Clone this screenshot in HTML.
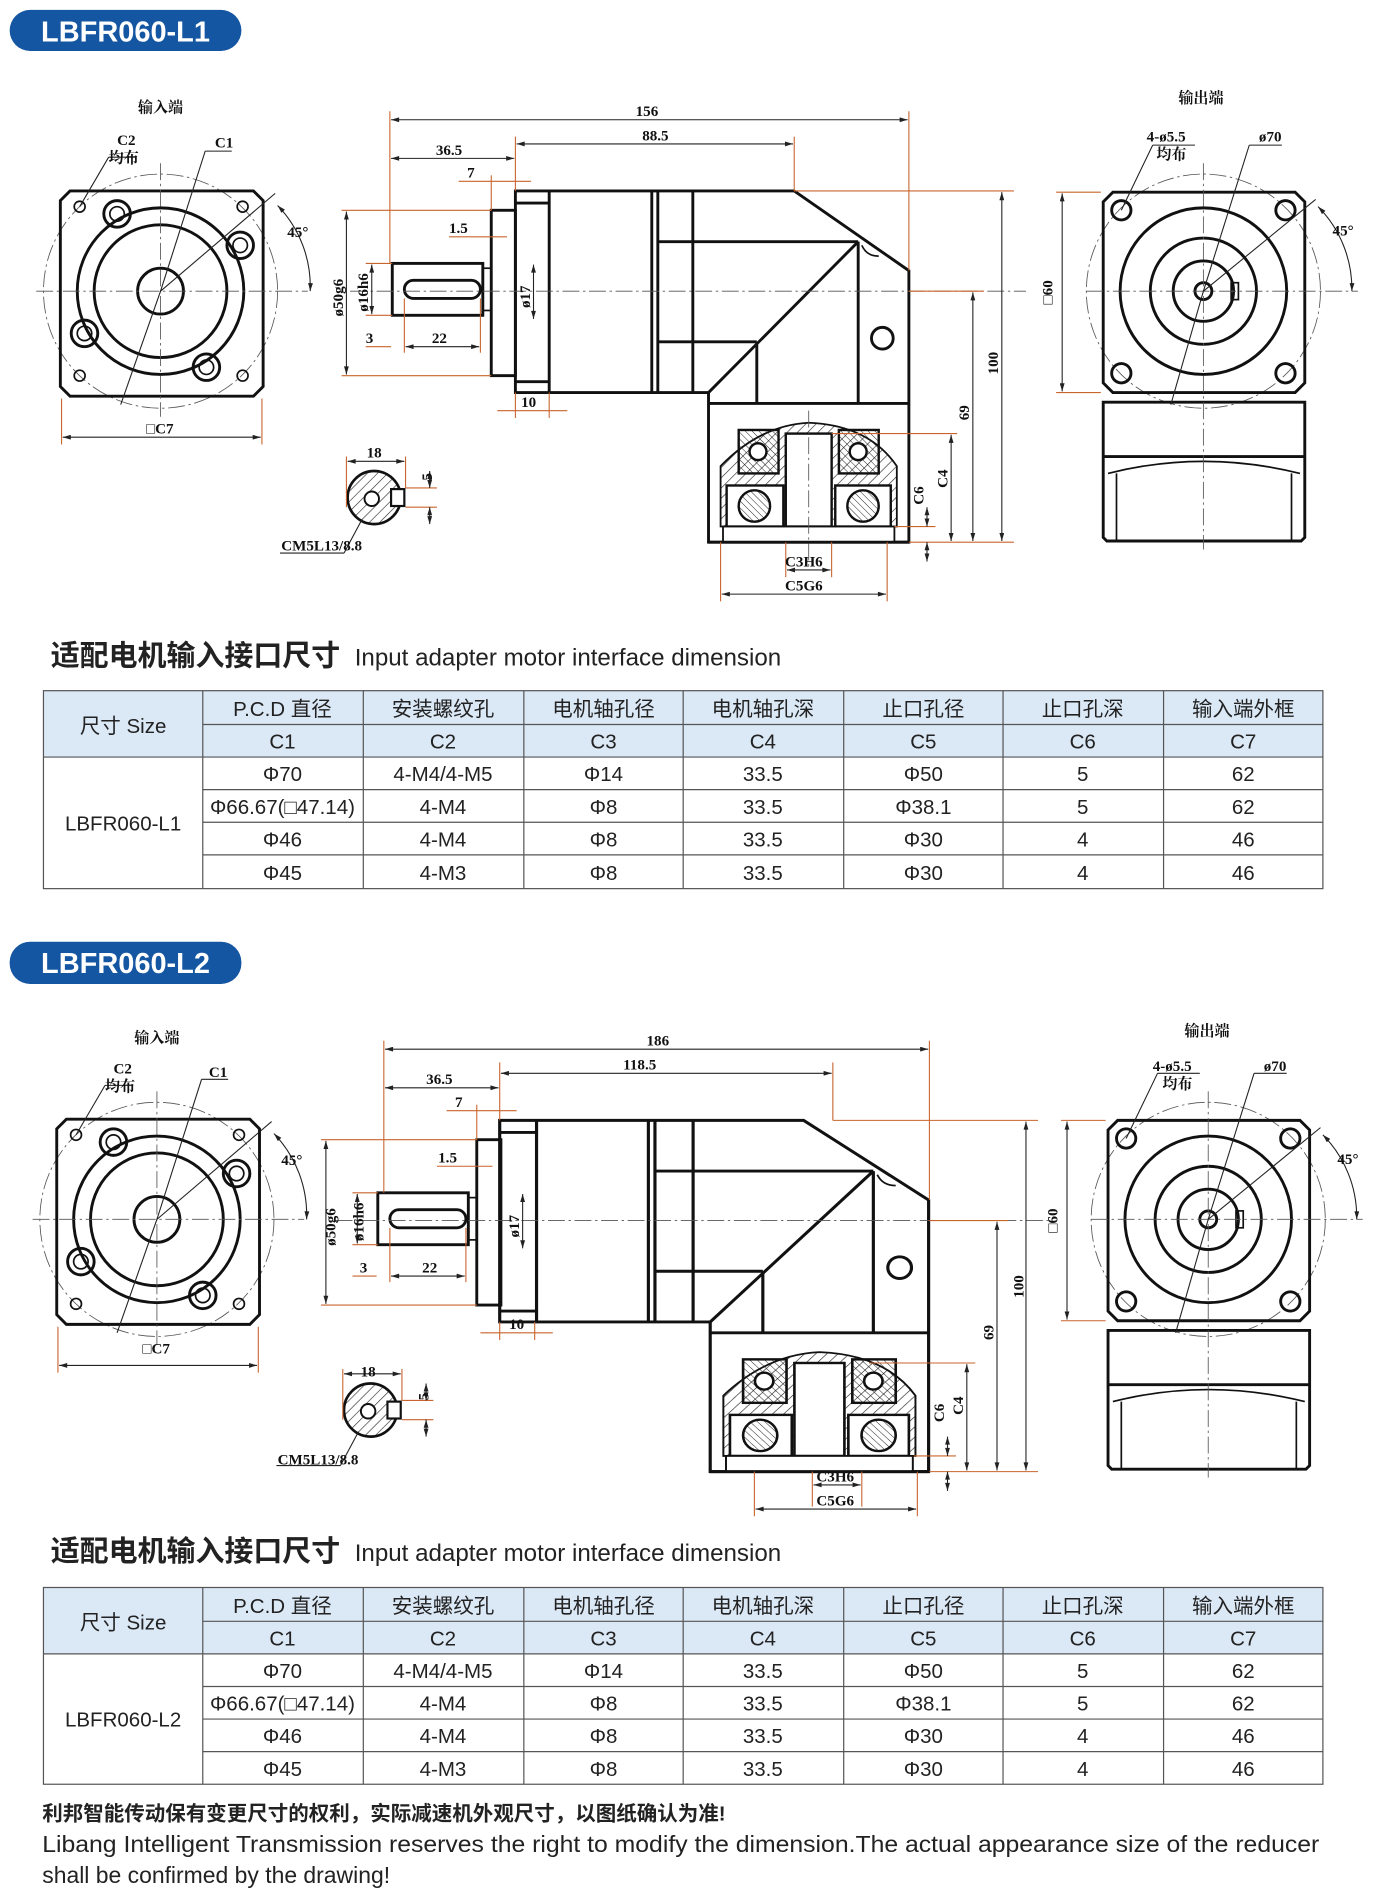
<!DOCTYPE html>
<html><head><meta charset="utf-8"><style>
html,body{margin:0;padding:0;background:#fff;}
svg{display:block;}
.t{font-family:"Liberation Sans","Noto Sans CJK SC",sans-serif;}
.d{font-family:"Liberation Sans Narrow","Liberation Serif","Noto Serif CJK SC",serif;font-size:12.5px;font-weight:bold;fill:#111;}
.k{fill:none;stroke:#111;stroke-width:2.4;}
.k1{fill:none;stroke:#111;stroke-width:1.4;}
.o{fill:none;stroke:#c8642c;stroke-width:0.9;}
.dm{fill:none;stroke:#222;stroke-width:0.9;marker-start:url(#ar);marker-end:url(#ar);}
.c{fill:none;stroke:#555;stroke-width:0.7;stroke-dasharray:14 3 2 3;}
.th{font-size:17px;fill:#222;text-anchor:middle;}
</style></head><body>
<svg width="1376" height="1904" viewBox="0 0 1140 1577" xmlns="http://www.w3.org/2000/svg">
<defs>
<marker id="ar" viewBox="0 0 10 6" refX="10" refY="3" markerWidth="8" markerHeight="4" orient="auto-start-reverse" markerUnits="userSpaceOnUse"><path d="M0,0L10,3L0,6z" fill="#222"/></marker>
<pattern id="h" width="6" height="6" patternUnits="userSpaceOnUse" patternTransform="rotate(45)"><line x1="0" y1="0" x2="0" y2="6" stroke="#222" stroke-width="1"/></pattern>
<pattern id="h2" width="4" height="4" patternUnits="userSpaceOnUse" patternTransform="rotate(-45)"><line x1="0" y1="0" x2="0" y2="4" stroke="#222" stroke-width="0.8"/></pattern>

<g id="inView">
<circle cx="133" cy="241" r="97" class="c"/>
<path class="k" d="M58,158H210L218,166V320L210,328H58L50,320V166Z"/>
<circle cx="133" cy="241" r="69" class="k"/>
<circle cx="133" cy="241" r="55" class="k"/>
<circle cx="133" cy="241" r="19" class="k"/>
<g class="k"><circle cx="97" cy="177" r="11"/><circle cx="199" cy="203" r="11"/><circle cx="70" cy="276" r="11"/><circle cx="171" cy="304" r="11"/></g>
<g class="k1"><circle cx="97" cy="177" r="6"/><circle cx="199" cy="203" r="6"/><circle cx="70" cy="276" r="6"/><circle cx="171" cy="304" r="6"/>
<circle cx="66" cy="171" r="4.5"/><circle cx="201" cy="171" r="4.5"/><circle cx="66" cy="311" r="4.5"/><circle cx="201" cy="311" r="4.5"/></g>
<line x1="30" y1="241" x2="255" y2="241" class="c"/><line x1="133" y1="135" x2="133" y2="345" class="c"/>
<line x1="133" y1="241" x2="100" y2="335" stroke="#222" stroke-width="0.9"/>
<line x1="133" y1="241" x2="170" y2="125" stroke="#222" stroke-width="0.9"/><line x1="170" y1="125" x2="192" y2="125" stroke="#222" stroke-width="0.9"/>
<line x1="133" y1="241" x2="228" y2="160" stroke="#222" stroke-width="0.9"/>
<line x1="66" y1="171" x2="90" y2="130" stroke="#222" stroke-width="0.9"/><line x1="90" y1="130" x2="112" y2="130" stroke="#222" stroke-width="0.9"/>
<path d="M230,170 A97,97 0 0 1 257,241" fill="none" stroke="#222" stroke-width="0.9" marker-start="url(#ar)" marker-end="url(#ar)"/>
<line x1="51" y1="330" x2="51" y2="368" class="o"/><line x1="217" y1="330" x2="217" y2="368" class="o"/>
<line x1="52" y1="362" x2="216" y2="362" class="dm"/>
</g>

<g id="outView">
<circle cx="997" cy="241" r="97" class="c"/>
<path class="k" d="M922,159H1073L1081,167V317L1073,325H922L914,317V167Z"/>
<path class="k" d="M914,333H1081V445L1078,448H917L914,445Z"/>
<line x1="914" y1="378" x2="1081" y2="378" class="k"/>
<path class="k1" d="M918,392Q997,372 1077,392M925,392V447M1070,392V447"/>
<circle cx="997" cy="241" r="69" class="k"/>
<circle cx="997" cy="241" r="44" class="k"/>
<circle cx="997" cy="241" r="25" class="k"/>
<circle cx="997" cy="241" r="7" class="k"/>
<rect x="1020" y="234" width="6" height="14" class="k1"/>
<g class="k"><circle cx="929" cy="174" r="8"/><circle cx="1065" cy="174" r="8"/><circle cx="929" cy="309" r="8"/><circle cx="1065" cy="309" r="8"/></g>
<line x1="900" y1="241" x2="1125" y2="241" class="c"/><line x1="997" y1="135" x2="997" y2="455" class="c"/>
<line x1="997" y1="241" x2="970" y2="335" stroke="#222" stroke-width="0.9"/>
<line x1="997" y1="241" x2="1035" y2="120" stroke="#222" stroke-width="0.9"/><line x1="1035" y1="120" x2="1062" y2="120" stroke="#222" stroke-width="0.9"/>
<line x1="929" y1="174" x2="955" y2="120" stroke="#222" stroke-width="0.9"/><line x1="955" y1="120" x2="990" y2="120" stroke="#222" stroke-width="0.9"/>
<line x1="997" y1="241" x2="1090" y2="165" stroke="#222" stroke-width="0.9"/>
<path d="M1092,171 A97,97 0 0 1 1120,241" fill="none" stroke="#222" stroke-width="0.9" marker-start="url(#ar)" marker-end="url(#ar)"/>
<line x1="875" y1="159" x2="912" y2="159" class="o"/><line x1="875" y1="325" x2="912" y2="325" class="o"/>
<line x1="880" y1="160" x2="880" y2="324" class="dm"/>
</g>

<g id="shaft">
<rect x="407" y="174" width="20" height="137" class="k"/>
<rect x="325" y="218" width="75" height="43" class="k"/>
<rect x="400" y="222" width="7" height="35" class="k1"/>
<rect x="335" y="232" width="63" height="15" rx="7.5" class="k"/>
</g>

<g id="body">
<path class="k" d="M427,158H658L753,224V449H587V325H427Z"/>
<line x1="455" y1="158" x2="455" y2="325" class="k"/>
<line x1="427" y1="168" x2="455" y2="168" class="k"/><line x1="427" y1="316" x2="455" y2="316" class="k"/>
<line x1="540" y1="158" x2="540" y2="325" class="k"/><line x1="545" y1="158" x2="545" y2="325" class="k"/>
<line x1="574" y1="158" x2="574" y2="325" class="k"/>
<line x1="545" y1="200" x2="711" y2="200" class="k"/><line x1="545" y1="283" x2="627" y2="283" class="k"/>
<line x1="587" y1="325" x2="711" y2="200" class="k"/>
<line x1="627" y1="283" x2="627" y2="334" class="k"/><line x1="711" y1="200" x2="711" y2="334" class="k"/>
<line x1="587" y1="334" x2="753" y2="334" class="k"/>
<circle cx="731" cy="280" r="9" class="k"/>
<path d="M714,203Q718,212 728,212" class="k1"/>
<path d="M597,436V386Q630,352 670,350Q720,352 743,386V436Z" fill="url(#h)" stroke="#111" stroke-width="1.5"/>
<rect x="651" y="359" width="38" height="77" fill="#fff" stroke="#111" stroke-width="2"/>
<rect x="612" y="356" width="33" height="36" fill="url(#h2)" stroke="#111" stroke-width="2"/>
<rect x="695" y="356" width="33" height="36" fill="url(#h2)" stroke="#111" stroke-width="2"/>
<circle cx="628" cy="374" r="7" fill="#fff" stroke="#111" stroke-width="2"/><circle cx="711" cy="374" r="7" fill="#fff" stroke="#111" stroke-width="2"/>
<rect x="602" y="402" width="47" height="34" fill="#fff" stroke="#111" stroke-width="2"/>
<rect x="692" y="402" width="46" height="34" fill="#fff" stroke="#111" stroke-width="2"/>
<circle cx="625" cy="419" r="13" fill="url(#h2)" stroke="#111" stroke-width="2"/><circle cx="715" cy="419" r="13" fill="url(#h2)" stroke="#111" stroke-width="2"/>
<rect x="599" y="436" width="142" height="13" fill="#fff" stroke="#111" stroke-width="1.5"/>
<line x1="587" y1="449" x2="753" y2="449" class="k"/>
</g>

<g id="key">
<circle cx="310" cy="412" r="22" fill="url(#h)" stroke="#111" stroke-width="2.2"/>
<circle cx="308" cy="413" r="6" fill="#fff" stroke="#111" stroke-width="1.6"/>
<rect x="324" y="405" width="11" height="14" fill="#fff" stroke="#111" stroke-width="1.8"/>
<line x1="287" y1="378" x2="287" y2="420" class="o"/><line x1="336" y1="378" x2="336" y2="404" class="o"/>
<line x1="288" y1="382" x2="335" y2="382" class="dm"/>
<line x1="336" y1="404" x2="362" y2="404" class="o"/><line x1="336" y1="420" x2="362" y2="420" class="o"/>
<line x1="356" y1="390" x2="356" y2="404" class="dm"/><line x1="356" y1="420" x2="356" y2="434" class="dm"/>
<line x1="300" y1="430" x2="285" y2="458" stroke="#222" stroke-width="0.9"/><line x1="232" y1="458" x2="285" y2="458" stroke="#222" stroke-width="0.9"/>
</g>
</defs>

<!-- ===== L1 ===== -->
<rect x="8" y="8" width="192" height="34" rx="17" fill="#1556a2"/>
<text x="104" y="34" class="t" font-size="24" font-weight="bold" fill="#fff" text-anchor="middle">LBFR060-L1</text>

<use href="#inView"/>
<text x="133" y="93" class="d" font-size="18" text-anchor="middle">输入端</text>
<text x="97" y="120" class="d">C2</text><text x="90" y="135" class="d">均布</text>
<text x="178" y="122" class="d">C1</text>
<text x="238" y="196" class="d">45°</text>
<text x="121" y="359" class="d">□C7</text>

<use href="#outView"/>
<text x="995" y="85" class="d" font-size="18" text-anchor="middle">输出端</text>
<text x="950" y="117" class="d">4-ø5.5</text><text x="958" y="132" class="d">均布</text>
<text x="1043" y="117" class="d">ø70</text>
<text x="1104" y="195" class="d">45°</text>
<text x="872" y="252" class="d" transform="rotate(-90 872 252)">□60</text>

<use href="#shaft"/>
<use href="#body"/>
<line x1="290" y1="241" x2="850" y2="241" class="c"/>
<line x1="670" y1="340" x2="670" y2="470" class="c"/>
<!-- dims L1 -->
<line x1="323" y1="92" x2="323" y2="218" class="o"/><line x1="427" y1="113" x2="427" y2="158" class="o"/>
<line x1="753" y1="92" x2="753" y2="224" class="o"/><line x1="658" y1="113" x2="658" y2="158" class="o"/>
<line x1="324" y1="99" x2="752" y2="99" class="dm"/><text x="536" y="96" class="d" text-anchor="middle">156</text>
<line x1="428" y1="119" x2="657" y2="119" class="dm"/><text x="543" y="116" class="d" text-anchor="middle">88.5</text>
<line x1="324" y1="131" x2="426" y2="131" class="dm"/><text x="372" y="128" class="d" text-anchor="middle">36.5</text>
<line x1="380" y1="150" x2="440" y2="150" class="o"/><line x1="407" y1="145" x2="407" y2="174" class="o"/><text x="387" y="147" class="d">7</text>
<line x1="372" y1="196" x2="420" y2="196" class="o"/><text x="372" y="193" class="d">1.5</text>
<line x1="283" y1="174" x2="407" y2="174" class="o"/><line x1="283" y1="311" x2="407" y2="311" class="o"/>
<line x1="287" y1="175" x2="287" y2="310" class="dm"/><text x="284" y="262" class="d" transform="rotate(-90 284 262)">ø50g6</text>
<line x1="303" y1="218" x2="325" y2="218" class="o"/><line x1="303" y1="261" x2="325" y2="261" class="o"/>
<line x1="308" y1="219" x2="308" y2="260" class="dm"/><text x="305" y="258" class="d" transform="rotate(-90 305 258)">ø16h6</text>
<line x1="442" y1="219" x2="442" y2="264" class="dm"/><text x="439" y="255" class="d" transform="rotate(-90 439 255)">ø17</text>
<line x1="335" y1="247" x2="335" y2="292" class="o"/><line x1="398" y1="247" x2="398" y2="292" class="o"/>
<line x1="303" y1="287" x2="324" y2="287" class="o"/><line x1="336" y1="287" x2="397" y2="287" class="dm"/>
<text x="303" y="284" class="d">3</text><text x="364" y="284" class="d" text-anchor="middle">22</text>
<line x1="427" y1="325" x2="427" y2="346" class="o"/><line x1="455" y1="325" x2="455" y2="346" class="o"/>
<line x1="412" y1="340" x2="470" y2="340" class="o"/><text x="438" y="337" class="d" text-anchor="middle">10</text>
<line x1="658" y1="158" x2="840" y2="158" class="o"/><line x1="753" y1="449" x2="840" y2="449" class="o"/>
<line x1="830" y1="159" x2="830" y2="448" class="dm"/><text x="827" y="310" class="d" transform="rotate(-90 827 310)">100</text>
<line x1="753" y1="241" x2="815" y2="241" class="o"/>
<line x1="806" y1="242" x2="806" y2="448" class="dm"/><text x="803" y="348" class="d" transform="rotate(-90 803 348)">69</text>
<line x1="689" y1="359" x2="793" y2="359" class="o"/>
<line x1="788" y1="360" x2="788" y2="448" class="dm"/><text x="785" y="404" class="d" transform="rotate(-90 785 404)">C4</text>
<line x1="741" y1="436" x2="775" y2="436" class="o"/>
<line x1="768" y1="420" x2="768" y2="436" class="dm"/><line x1="768" y1="449" x2="768" y2="465" class="dm"/>
<text x="765" y="418" class="d" transform="rotate(-90 765 418)">C6</text>
<line x1="651" y1="449" x2="651" y2="478" class="o"/><line x1="689" y1="449" x2="689" y2="478" class="o"/>
<line x1="652" y1="472" x2="688" y2="472" class="dm"/><text x="666" y="469" class="d" text-anchor="middle">C3H6</text>
<line x1="597" y1="449" x2="597" y2="498" class="o"/><line x1="735" y1="449" x2="735" y2="498" class="o"/>
<line x1="598" y1="492" x2="734" y2="492" class="dm"/><text x="666" y="489" class="d" text-anchor="middle">C5G6</text>
<use href="#key"/>
<text x="310" y="379" class="d" text-anchor="middle">18</text>
<text x="352" y="392" class="d" transform="rotate(-90 358 392)">5</text>
<text x="233" y="456" class="d" font-size="11">CM5L13/8.8</text>

<!-- title L1 -->
<text x="42" y="551" class="t"><tspan font-size="24" font-weight="bold" fill="#222">适配电机输入接口尺寸</tspan><tspan font-size="20" fill="#222" dx="12">Input adapter motor interface dimension</tspan></text>

<!-- table L1 -->
<g class="t">
<rect x="36" y="572" width="1060" height="55" fill="#dbe8f6"/>
<g stroke="#555" stroke-width="1" fill="none">
<rect x="36" y="572" width="1060" height="164"/>
<line x1="168" y1="600" x2="1096" y2="600"/><line x1="36" y1="627" x2="1096" y2="627"/>
<line x1="168" y1="654" x2="1096" y2="654"/><line x1="168" y1="681" x2="1096" y2="681"/><line x1="168" y1="708" x2="1096" y2="708"/>
<line x1="168" y1="572" x2="168" y2="736"/><line x1="301" y1="572" x2="301" y2="736"/><line x1="434" y1="572" x2="434" y2="736"/><line x1="566" y1="572" x2="566" y2="736"/><line x1="699" y1="572" x2="699" y2="736"/><line x1="831" y1="572" x2="831" y2="736"/><line x1="964" y1="572" x2="964" y2="736"/>
</g>
<text class="th" x="102" y="607">尺寸 Size</text>
<text class="th" x="234" y="593">P.C.D 直径</text><text class="th" x="367" y="593">安装螺纹孔</text><text class="th" x="500" y="593">电机轴孔径</text><text class="th" x="632" y="593">电机轴孔深</text><text class="th" x="765" y="593">止口孔径</text><text class="th" x="897" y="593">止口孔深</text><text class="th" x="1030" y="593">输入端外框</text>
<text class="th" x="234" y="620">C1</text><text class="th" x="367" y="620">C2</text><text class="th" x="500" y="620">C3</text><text class="th" x="632" y="620">C4</text><text class="th" x="765" y="620">C5</text><text class="th" x="897" y="620">C6</text><text class="th" x="1030" y="620">C7</text>
<text class="th" x="102" y="688">LBFR060-L1</text>
<text class="th" x="234" y="647">Φ70</text><text class="th" x="367" y="647">4-M4/4-M5</text><text class="th" x="500" y="647">Φ14</text><text class="th" x="632" y="647">33.5</text><text class="th" x="765" y="647">Φ50</text><text class="th" x="897" y="647">5</text><text class="th" x="1030" y="647">62</text>
<text class="th" x="234" y="674" font-size="16">Φ66.67(□47.14)</text><text class="th" x="367" y="674">4-M4</text><text class="th" x="500" y="674">Φ8</text><text class="th" x="632" y="674">33.5</text><text class="th" x="765" y="674">Φ38.1</text><text class="th" x="897" y="674">5</text><text class="th" x="1030" y="674">62</text>
<text class="th" x="234" y="701">Φ46</text><text class="th" x="367" y="701">4-M4</text><text class="th" x="500" y="701">Φ8</text><text class="th" x="632" y="701">33.5</text><text class="th" x="765" y="701">Φ30</text><text class="th" x="897" y="701">4</text><text class="th" x="1030" y="701">46</text>
<text class="th" x="234" y="729">Φ45</text><text class="th" x="367" y="729">4-M3</text><text class="th" x="500" y="729">Φ8</text><text class="th" x="632" y="729">33.5</text><text class="th" x="765" y="729">Φ30</text><text class="th" x="897" y="729">4</text><text class="th" x="1030" y="729">46</text>
</g>

<!-- ===== L2 ===== -->
<rect x="8" y="780" width="192" height="35" rx="17" fill="#1556a2"/>
<text x="104" y="806" class="t" font-size="24" font-weight="bold" fill="#fff" text-anchor="middle">LBFR060-L2</text>

<use href="#inView" transform="translate(-3,769)"/>
<text x="130" y="864" class="d" font-size="18" text-anchor="middle">输入端</text>
<text x="94" y="889" class="d">C2</text><text x="87" y="904" class="d">均布</text>
<text x="173" y="892" class="d">C1</text>
<text x="233" y="965" class="d">45°</text>
<text x="118" y="1121" class="d">□C7</text>

<use href="#outView" transform="translate(4,769)"/>
<text x="1000" y="858" class="d" font-size="18" text-anchor="middle">输出端</text>
<text x="955" y="887" class="d">4-ø5.5</text><text x="963" y="902" class="d">均布</text>
<text x="1047" y="887" class="d">ø70</text>
<text x="1108" y="964" class="d">45°</text>
<text x="876" y="1021" class="d" transform="rotate(-90 876 1021)">□60</text>

<use href="#shaft" transform="translate(-12,770)"/>
<use href="#body" transform="translate(414,770) scale(1.09,1) translate(-427,0)"/>
<line x1="278" y1="1011" x2="870" y2="1011" class="c"/>
<!-- dims L2 -->
<line x1="318" y1="862" x2="318" y2="988" class="o"/><line x1="414" y1="880" x2="414" y2="928" class="o"/>
<line x1="770" y1="862" x2="770" y2="994" class="o"/><line x1="690" y1="880" x2="690" y2="928" class="o"/>
<line x1="319" y1="869" x2="769" y2="869" class="dm"/><text x="545" y="866" class="d" text-anchor="middle">186</text>
<line x1="415" y1="889" x2="689" y2="889" class="dm"/><text x="530" y="886" class="d" text-anchor="middle">118.5</text>
<line x1="319" y1="901" x2="413" y2="901" class="dm"/><text x="364" y="898" class="d" text-anchor="middle">36.5</text>
<line x1="370" y1="920" x2="428" y2="920" class="o"/><line x1="395" y1="915" x2="395" y2="944" class="o"/><text x="377" y="917" class="d">7</text>
<line x1="362" y1="966" x2="408" y2="966" class="o"/><text x="363" y="963" class="d">1.5</text>
<line x1="266" y1="944" x2="395" y2="944" class="o"/><line x1="266" y1="1081" x2="395" y2="1081" class="o"/>
<line x1="270" y1="945" x2="270" y2="1080" class="dm"/><text x="278" y="1032" class="d" transform="rotate(-90 278 1032)">ø50g6</text>
<line x1="292" y1="988" x2="313" y2="988" class="o"/><line x1="292" y1="1031" x2="313" y2="1031" class="o"/>
<line x1="296" y1="989" x2="296" y2="1030" class="dm"/><text x="301" y="1028" class="d" transform="rotate(-90 301 1028)">ø16h6</text>
<line x1="433" y1="989" x2="433" y2="1034" class="dm"/><text x="430" y="1025" class="d" transform="rotate(-90 430 1025)">ø17</text>
<line x1="323" y1="1017" x2="323" y2="1062" class="o"/><line x1="386" y1="1017" x2="386" y2="1062" class="o"/>
<line x1="292" y1="1057" x2="312" y2="1057" class="o"/><line x1="324" y1="1057" x2="385" y2="1057" class="dm"/>
<text x="298" y="1054" class="d">3</text><text x="356" y="1054" class="d" text-anchor="middle">22</text>
<line x1="414" y1="1095" x2="414" y2="1110" class="o"/><line x1="443" y1="1095" x2="443" y2="1110" class="o"/>
<line x1="398" y1="1104" x2="458" y2="1104" class="o"/><text x="428" y="1101" class="d" text-anchor="middle">10</text>
<line x1="690" y1="928" x2="860" y2="928" class="o"/><line x1="770" y1="1219" x2="860" y2="1219" class="o"/>
<line x1="850" y1="929" x2="850" y2="1218" class="dm"/><text x="848" y="1075" class="d" transform="rotate(-90 848 1075)">100</text>
<line x1="770" y1="1011" x2="835" y2="1011" class="o"/>
<line x1="826" y1="1012" x2="826" y2="1218" class="dm"/><text x="823" y="1110" class="d" transform="rotate(-90 823 1110)">69</text>
<line x1="720" y1="1129" x2="808" y2="1129" class="o"/>
<line x1="801" y1="1130" x2="801" y2="1218" class="dm"/><text x="798" y="1172" class="d" transform="rotate(-90 798 1172)">C4</text>
<line x1="757" y1="1206" x2="792" y2="1206" class="o"/>
<line x1="785" y1="1190" x2="785" y2="1206" class="dm"/><line x1="785" y1="1219" x2="785" y2="1235" class="dm"/>
<text x="782" y="1178" class="d" transform="rotate(-90 782 1178)">C6</text>
<line x1="673" y1="1219" x2="673" y2="1248" class="o"/><line x1="714" y1="1219" x2="714" y2="1248" class="o"/>
<line x1="674" y1="1230" x2="713" y2="1230" class="dm"/><text x="692" y="1227" class="d" text-anchor="middle">C3H6</text>
<line x1="625" y1="1219" x2="625" y2="1256" class="o"/><line x1="760" y1="1219" x2="760" y2="1256" class="o"/>
<line x1="626" y1="1250" x2="759" y2="1250" class="dm"/><text x="692" y="1247" class="d" text-anchor="middle">C5G6</text>
<use href="#key" transform="translate(-3,756)"/>
<text x="305" y="1140" class="d" text-anchor="middle">18</text>
<text x="349" y="1154" class="d" transform="rotate(-90 355 1154)">5</text>
<text x="230" y="1213" class="d" font-size="11">CM5L13/8.8</text>

<text x="42" y="1293" class="t"><tspan font-size="24" font-weight="bold" fill="#222">适配电机输入接口尺寸</tspan><tspan font-size="20" fill="#222" dx="12">Input adapter motor interface dimension</tspan></text>

<g class="t">
<rect x="36" y="1315" width="1060" height="55" fill="#dbe8f6"/>
<g stroke="#555" stroke-width="1" fill="none">
<rect x="36" y="1315" width="1060" height="163"/>
<line x1="168" y1="1343" x2="1096" y2="1343"/><line x1="36" y1="1370" x2="1096" y2="1370"/>
<line x1="168" y1="1397" x2="1096" y2="1397"/><line x1="168" y1="1424" x2="1096" y2="1424"/><line x1="168" y1="1451" x2="1096" y2="1451"/>
<line x1="168" y1="1315" x2="168" y2="1478"/><line x1="301" y1="1315" x2="301" y2="1478"/><line x1="434" y1="1315" x2="434" y2="1478"/><line x1="566" y1="1315" x2="566" y2="1478"/><line x1="699" y1="1315" x2="699" y2="1478"/><line x1="831" y1="1315" x2="831" y2="1478"/><line x1="964" y1="1315" x2="964" y2="1478"/>
</g>
<text class="th" x="102" y="1350">尺寸 Size</text>
<text class="th" x="234" y="1336">P.C.D 直径</text><text class="th" x="367" y="1336">安装螺纹孔</text><text class="th" x="500" y="1336">电机轴孔径</text><text class="th" x="632" y="1336">电机轴孔深</text><text class="th" x="765" y="1336">止口孔径</text><text class="th" x="897" y="1336">止口孔深</text><text class="th" x="1030" y="1336">输入端外框</text>
<text class="th" x="234" y="1363">C1</text><text class="th" x="367" y="1363">C2</text><text class="th" x="500" y="1363">C3</text><text class="th" x="632" y="1363">C4</text><text class="th" x="765" y="1363">C5</text><text class="th" x="897" y="1363">C6</text><text class="th" x="1030" y="1363">C7</text>
<text class="th" x="102" y="1430">LBFR060-L2</text>
<text class="th" x="234" y="1390">Φ70</text><text class="th" x="367" y="1390">4-M4/4-M5</text><text class="th" x="500" y="1390">Φ14</text><text class="th" x="632" y="1390">33.5</text><text class="th" x="765" y="1390">Φ50</text><text class="th" x="897" y="1390">5</text><text class="th" x="1030" y="1390">62</text>
<text class="th" x="234" y="1417" font-size="16">Φ66.67(□47.14)</text><text class="th" x="367" y="1417">4-M4</text><text class="th" x="500" y="1417">Φ8</text><text class="th" x="632" y="1417">33.5</text><text class="th" x="765" y="1417">Φ38.1</text><text class="th" x="897" y="1417">5</text><text class="th" x="1030" y="1417">62</text>
<text class="th" x="234" y="1444">Φ46</text><text class="th" x="367" y="1444">4-M4</text><text class="th" x="500" y="1444">Φ8</text><text class="th" x="632" y="1444">33.5</text><text class="th" x="765" y="1444">Φ30</text><text class="th" x="897" y="1444">4</text><text class="th" x="1030" y="1444">46</text>
<text class="th" x="234" y="1471">Φ45</text><text class="th" x="367" y="1471">4-M3</text><text class="th" x="500" y="1471">Φ8</text><text class="th" x="632" y="1471">33.5</text><text class="th" x="765" y="1471">Φ30</text><text class="th" x="897" y="1471">4</text><text class="th" x="1030" y="1471">46</text>
</g>

<text x="35" y="1508" class="t" font-size="17" font-weight="bold" fill="#222">利邦智能传动保有变更尺寸的权利，实际减速机外观尺寸，以图纸确认为准!</text>
<text x="35" y="1534" class="t" font-size="19" fill="#222" textLength="1058" lengthAdjust="spacingAndGlyphs">Libang Intelligent Transmission reserves the right to modify the dimension.The actual appearance size of the reducer</text>
<text x="35" y="1560" class="t" font-size="19" fill="#222">shall be confirmed by the drawing!</text>
</svg>
</body></html>
